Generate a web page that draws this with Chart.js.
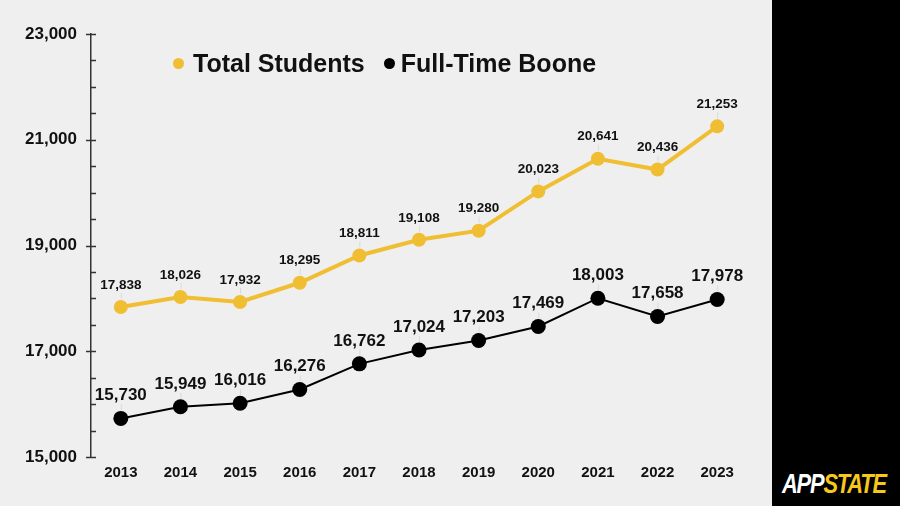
<!DOCTYPE html>
<html>
<head>
<meta charset="utf-8">
<script src="https://cdn.jsdelivr.net/npm/chart.js@4.4.1/dist/chart.umd.min.js"></script>
<style>
  html, body { margin: 0; padding: 0; }
  body { width: 900px; height: 506px; background: #efefef; position: relative; overflow: hidden; }
  #wrap { position: absolute; left: 0; top: 0; width: 772px; height: 506px; }
  #band { position: absolute; left: 772px; top: 0; width: 128px; height: 506px; background: #000; }
  #logo { position: absolute; left: 782px; top: 469px; font-family: Arial, "Liberation Sans", sans-serif;
          font-weight: bold; font-style: italic; font-size: 28px; letter-spacing: -1.5px; line-height: 30px;
          transform: scaleX(0.78); transform-origin: left top; white-space: nowrap; }
  #logo .app { color: #fff; }
  #logo .state { color: #f7c81a; }
  #legend { position: absolute; left: 173px; top: 49px; font-family: Arial, "Liberation Sans", sans-serif;
            font-weight: bold; font-size: 25px; color: #111; white-space: nowrap; }
  #legend span.dot { display: inline-block; width: 11px; height: 11px; border-radius: 50%; vertical-align: middle; margin-right: 9px; position: relative; top: -2px; }
</style>
</head>
<body>
<div id="wrap"><canvas id="enrollChart"></canvas></div>
<div id="legend">
  <span class="dot" style="background:#f0be32"></span>Total Students
  <span class="dot" style="background:#000;margin-left:12px;margin-right:6px"></span>Full-Time Boone
</div>
<div id="band"></div>
<div id="logo"><span class="app">APP</span><span class="state">STATE</span></div>
<script>
// Datos de matrícula
const years = ['2013', '2014', '2015', '2016', '2017', '2018', '2019', '2020', '2021', '2022', '2023'];
const totalStudents = [17838, 18026, 17932, 18295, 18811, 19108, 19280, 20023, 20641, 20436, 21253];
const fullTimeBoone = [15730, 15949, 16016, 16276, 16762, 17024, 17203, 17469, 18003, 17658, 17978];
const yMin = 15000;
const yMax = 23000;

const YELLOW = '#f0be32';
const FONT = 'Arial, "Liberation Sans", sans-serif';

// ticks del eje y (mayores cada 2000, menores cada 500)
const axisTicks = {
    id: 'axisTicks',
    afterDraw(chart) {
        const y = chart.scales.y;
        const ctx = chart.ctx;
        const x0 = chart.chartArea.left;
        ctx.save();
        ctx.strokeStyle = '#333';
        ctx.lineWidth = 1.5;
        for (let v = yMin; v <= yMax; v += 500) {
            const py = Math.round(y.getPixelForValue(v)) + 0.5;
            const major = (v - yMin) % 2000 === 0;
            ctx.beginPath();
            ctx.moveTo(major ? x0 - 5 : x0, py);
            ctx.lineTo(x0 + 5, py);
            ctx.stroke();
        }
        ctx.restore();
    }
};

// etiquetas de valores encima de cada punto
const valueLabels = {
    id: 'valueLabels',
    afterDatasetsDraw(chart) {
        const ctx = chart.ctx;
        chart.data.datasets.forEach((ds, i) => {
            const meta = chart.getDatasetMeta(i);
            const big = i === 1;
            meta.data.forEach((pt, j) => {
                ctx.save();
                ctx.strokeStyle = '#dadada';
                ctx.lineWidth = 1;
                ctx.beginPath();
                ctx.moveTo(pt.x + 0.5, pt.y - 14);
                ctx.lineTo(pt.x + 0.5, pt.y - 8);
                ctx.stroke();
                ctx.fillStyle = '#111';
                ctx.font = (big ? 'bold 17px ' : 'bold 13.5px ') + FONT;
                ctx.textAlign = 'center';
                ctx.textBaseline = 'middle';
                ctx.fillText(ds.data[j].toLocaleString('en-US'), pt.x, pt.y - (big ? 23 : 22));
                ctx.restore();
            });
        });
    }
};

const ctx = document.getElementById('enrollChart');
new Chart(ctx.getContext('2d'), {
    type: 'line',
    data: {
        labels: years,
        datasets: [{
            label: 'Total Students',
            data: totalStudents,
            borderColor: YELLOW,
            backgroundColor: YELLOW,
            borderWidth: 4,
            pointRadius: 7,
            pointBorderWidth: 0,
            tension: 0
        }, {
            label: 'Full-Time Boone',
            data: fullTimeBoone,
            borderColor: '#000',
            backgroundColor: '#000',
            borderWidth: 2,
            pointRadius: 7.5,
            pointBorderWidth: 0,
            tension: 0
        }]
    },
    options: {
        responsive: true,
        maintainAspectRatio: false,
        animation: false,
        layout: { padding: { top: 34, right: 25, left: 0, bottom: 0 } },
        plugins: {
            legend: { display: false },
            tooltip: { enabled: false }
        },
        scales: {
            x: {
                offset: true,
                grid: { display: false, drawTicks: false },
                border: { display: false },
                ticks: {
                    color: '#111',
                    padding: 7,
                    font: { family: FONT, weight: 'bold', size: 15 }
                },
                afterFit(scale) { scale.height = 49; }
            },
            y: {
                min: yMin,
                max: yMax,
                grid: { display: false, drawTicks: false },
                border: { display: true, color: '#333', width: 1.5 },
                ticks: {
                    stepSize: 500,
                    autoSkip: false,
                    padding: 14,
                    color: '#111',
                    font: { family: FONT, weight: 'bold', size: 17 },
                    callback: function (v) {
                        return (v - yMin) % 2000 === 0 ? v.toLocaleString('en-US') : '';
                    }
                },
                afterFit(scale) { scale.width = 91; }
            }
        }
    },
    plugins: [axisTicks, valueLabels]
});
</script>
</body>
</html>
